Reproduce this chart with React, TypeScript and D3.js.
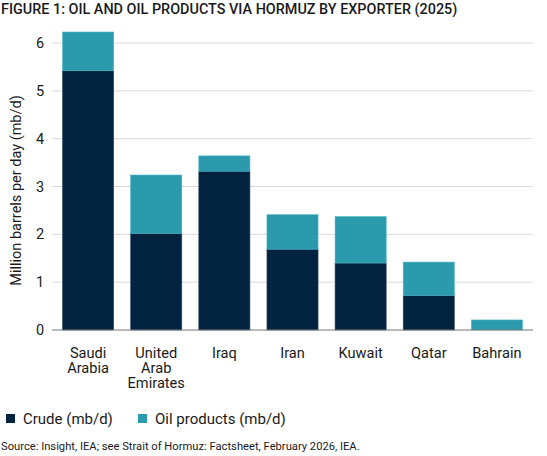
import React from "react";
import * as d3 from "d3";

const categories: string[][] = [
  ["Saudi", "Arabia"],
  ["United", "Arab", "Emirates"],
  ["Iraq"],
  ["Iran"],
  ["Kuwait"],
  ["Qatar"],
  ["Bahrain"],
];
const crude = [5.42, 2.02, 3.32, 1.69, 1.4, 0.72, 0];
const products = [0.81, 1.22, 0.32, 0.72, 0.97, 0.7, 0.21];
const yTicks = [0, 1, 2, 3, 4, 5, 6];

const W = 547;
const H = 456;
const FONT = "Roboto, 'Noto Sans', sans-serif";
const CRUDE = "#012340";
const PROD = "#2c9aad";

export default function App() {
  const keys = categories.map((c) => c.join(" "));
  const x = d3
    .scaleBand<string>()
    .domain(keys)
    .range([52, 533])
    .paddingInner(0.25)
    .paddingOuter(0.155);
  const y = d3.scaleLinear().domain([0, 6]).range([330, 43]);

  return (
    <svg
      width={W}
      height={H}
      style={{ position: "absolute", left: 0, top: 0, background: "#fff" }}
      fontFamily={FONT}
    >
      <text x={1} y={14} fontSize={14.4} fontWeight={500} fill="#1a1a1a">
        FIGURE 1: OIL AND OIL PRODUCTS VIA HORMUZ BY EXPORTER (2025)
      </text>
      {yTicks.map((t) => (
        <g key={t}>
          {t > 0 && (
            <line x1={52} x2={533} y1={y(t)} y2={y(t)} stroke="#d9d9d9" strokeWidth={1} />
          )}
          <text x={40} y={y(t) + 5} fontSize={14.5} textAnchor="middle" fill="#1a1a1a">
            {t}
          </text>
        </g>
      ))}
      <text
        transform={`translate(21,${(y(0) + y(6)) / 2 + 4}) rotate(-90)`}
        fontSize={14.5}
        textAnchor="middle"
        fill="#1a1a1a"
      >
        Million barrels per day (mb/d)
      </text>
      {keys.map((k, i) => {
        const x0 = x(k)!;
        const bw = x.bandwidth();
        return (
          <g key={k}>
            {crude[i] > 0 && (
              <rect
                x={x0}
                y={y(crude[i])}
                width={bw}
                height={y(0) - y(crude[i])}
                fill={CRUDE}
                stroke="#2a4560"
                strokeWidth={0.6}
              />
            )}
            <rect
              x={x0}
              y={y(crude[i] + products[i])}
              width={bw}
              height={y(crude[i]) - y(crude[i] + products[i])}
              fill={PROD}
              stroke="#48b6c6"
              strokeWidth={0.6}
            />
            <text y={358} fontSize={14.6} textAnchor="middle" fill="#1a1a1a">
              {categories[i].map((line, j) => (
                <tspan key={j} x={x0 + bw / 2} dy={j === 0 ? 0 : 15}>
                  {line}
                </tspan>
              ))}
            </text>
          </g>
        );
      })}
      <line x1={52} x2={533} y1={y(0)} y2={y(0)} stroke="#777" strokeWidth={1} />
      <rect x={6} y={414} width={9} height={9} fill={CRUDE} />
      <text x={23} y={423.5} fontSize={15} fill="#1a1a1a">
        Crude (mb/d)
      </text>
      <rect x={138} y={414} width={9} height={9} fill={PROD} />
      <text x={155} y={423.5} fontSize={15} fill="#1a1a1a">
        Oil products (mb/d)
      </text>
      <text x={1} y={450} fontSize={11.2} fill="#1a1a1a">
        Source: Insight, IEA; see Strait of Hormuz: Factsheet, February 2026, IEA.
      </text>
    </svg>
  );
}
